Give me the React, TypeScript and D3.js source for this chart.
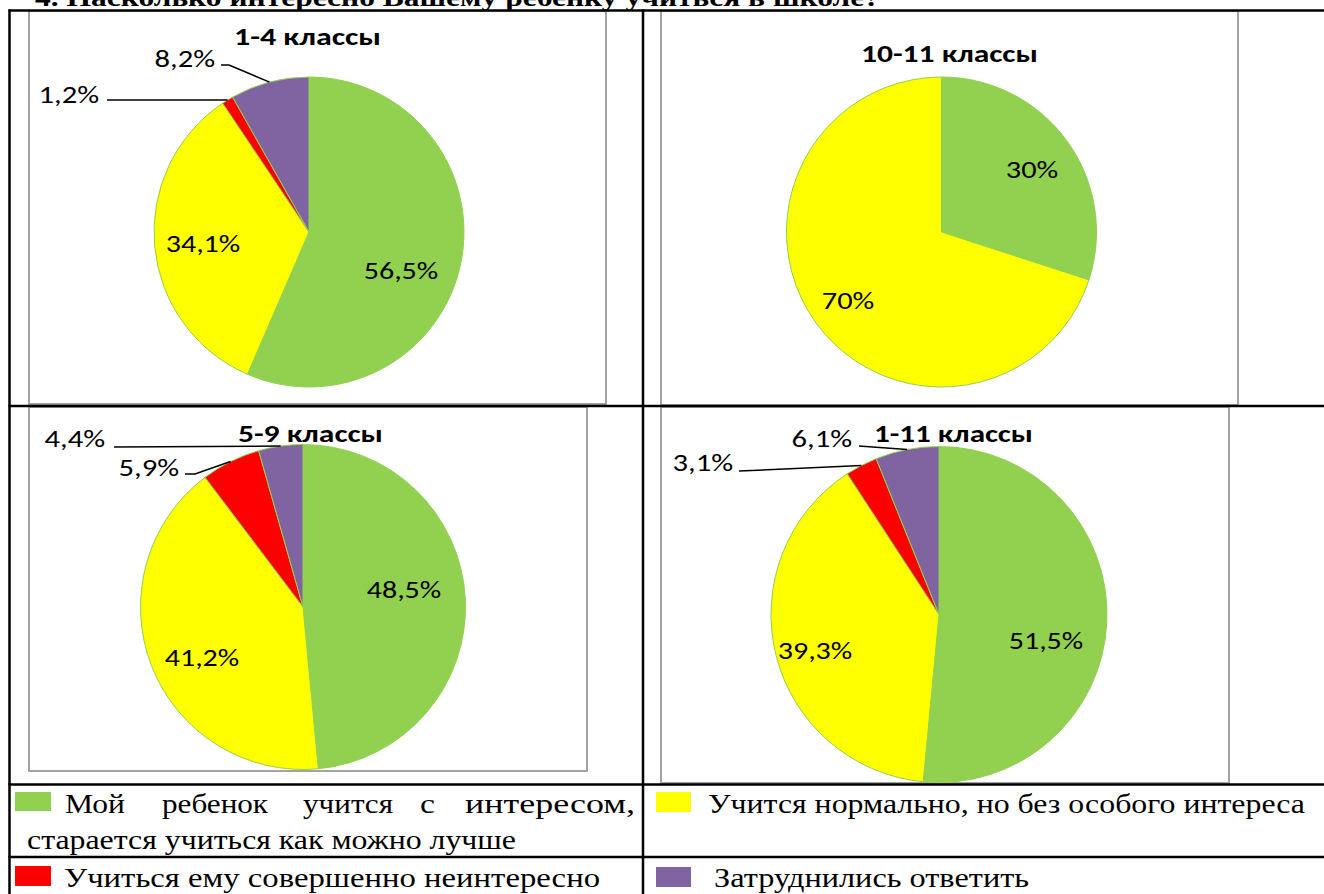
import React from "react";
import * as d3 from "d3";

// answer options (legend order = slice order, clockwise from 12 o'clock)
const categories = [
  "Мой ребенок учится с интересом, старается учиться как можно лучше",
  "Учится нормально, но без особого интереса",
  "Учиться ему совершенно неинтересно",
  "Затруднились ответить",
];
const colors = ["#92D050", "#FFFF00", "#FF0000", "#8064A2"];

const groups = ["1-4 классы", "10-11 классы", "5-9 классы", "1-11 классы"];
const values14 = [56.5, 34.1, 1.2, 8.2];
const values1011 = [30, 70, 0, 0];
const values59 = [48.5, 41.2, 5.9, 4.4];
const values111 = [51.5, 39.3, 3.1, 6.1];
const series = [values14, values1011, values59, values111];

const pageTitle = "4. Насколько интересно Вашему ребенку учиться в школе?";

type Lbl =
  | { kind: "in"; x: number; y: number }
  | { kind: "out"; x: number; y: number; from: [number, number][] };

type Layout = {
  box: [number, number, number, number];
  cx: number;
  cy: number;
  r: number;
  title: { x: number; y: number; w: number };
  labels: (Lbl | null)[];
};

const layouts: Layout[] = [
  {
    box: [29, 11, 606, 404],
    cx: 309, cy: 232, r: 155,
    title: { x: 307.5, y: 45, w: 147 },
    labels: [
      { kind: "in", x: 401, y: 270 },
      { kind: "in", x: 203, y: 243 },
      { kind: "out", x: 99, y: 94, from: [[107, 100]] },
      { kind: "out", x: 215, y: 58, from: [[221, 65], [229, 65]] },
    ],
  },
  {
    box: [661, 11, 1238, 405],
    cx: 941.5, cy: 232, r: 155,
    title: { x: 949.5, y: 62, w: 177 },
    labels: [
      { kind: "in", x: 1032, y: 169 },
      { kind: "in", x: 848, y: 300 },
      null,
      null,
    ],
  },
  {
    box: [29, 407, 587, 771],
    cx: 303, cy: 607, r: 162.5,
    title: { x: 310.5, y: 442, w: 145 },
    labels: [
      { kind: "in", x: 404, y: 589 },
      { kind: "in", x: 202, y: 657 },
      { kind: "out", x: 179, y: 467, from: [[185, 474], [195, 474]] },
      { kind: "out", x: 105, y: 438, from: [[114, 447]] },
    ],
  },
  {
    box: [661, 407, 1229, 783],
    cx: 939, cy: 614.5, r: 168,
    title: { x: 953.5, y: 442, w: 159 },
    labels: [
      { kind: "in", x: 1046, y: 640 },
      { kind: "in", x: 815, y: 650 },
      { kind: "out", x: 733, y: 462, from: [[739, 471]] },
      { kind: "out", x: 852, y: 438, from: [[859, 446]] },
    ],
  },
];

const labelFont = "Carlito, 'Noto Sans', 'Open Sans', sans-serif";
const serif = "'Liberation Serif', 'DejaVu Serif', serif";

const fmt = (v: number) => String(v).replace(".", ",") + "%";
// approximate Calibri advance widths at the picture's size
const labelWidth = (s: string) =>
  s.split("").reduce((w, c) => w + (c === "," ? 8 : c === "%" ? 24.5 : 14), 0);

function Pie({ values, name, lay }: { values: number[]; name: string; lay: Layout }) {
  const pie = d3.pie<number>().sort(null).value((d) => d)(values);
  const arc = d3.arc<d3.PieArcDatum<number>>().innerRadius(0).outerRadius(lay.r);
  const edge = d3.arc<d3.PieArcDatum<number>>().innerRadius(lay.r).outerRadius(lay.r);
  const line = d3.line();
  const [x0, y0, x1, y1] = lay.box;
  return (
    <g>
      <rect x={x0} y={y0} width={x1 - x0} height={y1 - y0} fill="none" stroke="#a3a3a3" strokeWidth={2} />
      <g transform={`translate(${lay.cx},${lay.cy})`}>
        {pie.map((p, i) =>
          p.value > 0 ? (
            <path key={i} d={arc(p) || ""} fill={colors[i]} stroke="#92D050" strokeWidth={1} />
          ) : null
        )}
      </g>
      <text
        x={lay.title.x} y={lay.title.y} textAnchor="middle"
        fontFamily={labelFont} fontWeight="bold" fontSize={25}
        textLength={lay.title.w} lengthAdjust="spacingAndGlyphs"
      >
        {name}
      </text>
      {pie.map((p, i) => {
        const l = lay.labels[i];
        if (!l || p.value <= 0) return null;
        const s = fmt(p.value);
        const w = labelWidth(s);
        if (l.kind === "in") {
          return (
            <text key={i} x={l.x} y={l.y} textAnchor="middle" dominantBaseline="central"
              fontFamily={labelFont} fontSize={25} textLength={w} lengthAdjust="spacingAndGlyphs">
              {s}
            </text>
          );
        }
        const [ex, ey] = edge.centroid(p);
        const pts: [number, number][] = [...l.from, [lay.cx + ex, lay.cy + ey]];
        return (
          <g key={i}>
            <path d={line(pts) || ""} fill="none" stroke="#000" strokeWidth={1.5} />
            <text x={l.x - w} y={l.y} dominantBaseline="central"
              fontFamily={labelFont} fontSize={25} textLength={w} lengthAdjust="spacingAndGlyphs">
              {s}
            </text>
          </g>
        );
      })}
    </g>
  );
}

export default function App() {
  const W = 1324, H = 894;
  // first legend line is justified in the source table: each word sits in its own span
  const firstWords = categories[0].split(" ").slice(0, 5);
  const wordSpan = [[65, 60], [162, 106], [303, 90], [420, 15], [465, 170]];
  const secondLine = categories[0].split(" ").slice(5).join(" ");
  const rows = [10.5, 406, 784.5, 857];
  return (
    <svg width={W} height={H} style={{ position: "absolute", left: 0, top: 0, background: "#fff" }}>
      <rect width={W} height={H} fill="#fff" />
      <text x={35} y={6} fontFamily={serif} fontWeight="bold" fontSize={25}
        textLength={845} lengthAdjust="spacingAndGlyphs">
        {pageTitle}
      </text>

      {series.map((v, i) => (
        <Pie key={i} values={v} name={groups[i]} lay={layouts[i]} />
      ))}

      {/* table grid */}
      <g stroke="#000" strokeWidth={2.5}>
        {rows.map((y, i) => (
          <line key={i} x1={8.5} x2={W} y1={y} y2={y} />
        ))}
        <line x1={9.5} x2={9.5} y1={9.5} y2={H} />
        <line x1={643} x2={643} y1={9.5} y2={H} />
      </g>

      {/* legend cells */}
      <rect x={15} y={792} width={36} height={19} fill={colors[0]} />
      {firstWords.map((w, i) => (
        <text key={i} x={wordSpan[i][0]} y={813} fontFamily={serif} fontSize={28}
          textLength={wordSpan[i][1]} lengthAdjust="spacingAndGlyphs">
          {w}
        </text>
      ))}
      <text x={27} y={849} fontFamily={serif} fontSize={28} textLength={489} lengthAdjust="spacingAndGlyphs">
        {secondLine}
      </text>

      <rect x={656} y={792} width={35} height={20} fill={colors[1]} />
      <text x={708} y={813} fontFamily={serif} fontSize={28} textLength={597} lengthAdjust="spacingAndGlyphs">
        {categories[1]}
      </text>

      <rect x={15} y={866} width={36} height={20} fill={colors[2]} />
      <text x={64} y={887} fontFamily={serif} fontSize={28} textLength={536} lengthAdjust="spacingAndGlyphs">
        {categories[2]}
      </text>

      <rect x={656} y={867} width={35} height={20} fill={colors[3]} />
      <text x={714} y={887} fontFamily={serif} fontSize={28} textLength={315} lengthAdjust="spacingAndGlyphs">
        {categories[3]}
      </text>
    </svg>
  );
}
